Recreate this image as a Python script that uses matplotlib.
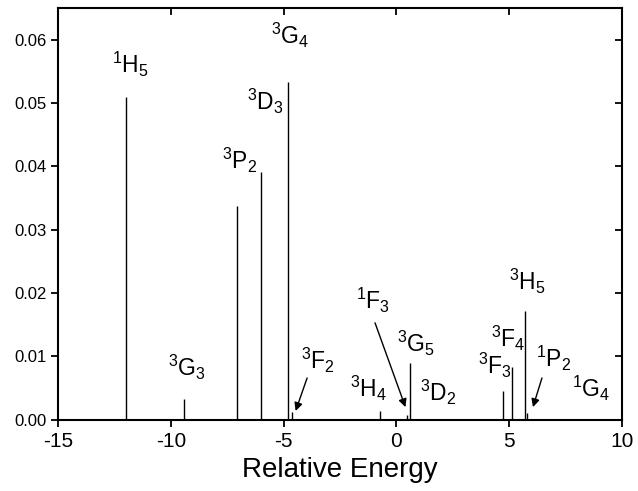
"""Stick spectrum of the multiplet levels vs relative energy"""

import matplotlib
matplotlib.use('Agg')
import matplotlib.pyplot as plt

plt.rcParams['font.family'] = ['Liberation Sans', 'DejaVu Sans']
plt.rcParams['mathtext.default'] = 'regular'
plt.rcParams['axes.unicode_minus'] = False

# level energies and intensities
energies = [-12.0, -9.43, -7.05, -6.0, -4.80, -4.63, -0.74, 0.48, 0.59,
            4.71, 5.11, 5.69, 5.80, 8.55]
intensities = [0.0510, 0.0033, 0.0337, 0.0391, 0.0533, 0.0012, 0.0014,
               0.0007, 0.0089, 0.0045, 0.0084, 0.0172, 0.0011, 0.0002]

# term labels and where they sit (data coords)
labels = [r'$^{1}H_{5}$', r'$^{3}G_{3}$', r'$^{3}P_{2}$', r'$^{3}D_{3}$',
          r'$^{3}G_{4}$', r'$^{3}F_{2}$', r'$^{3}H_{4}$', r'$^{1}F_{3}$',
          r'$^{3}G_{5}$', r'$^{3}D_{2}$', r'$^{3}F_{3}$', r'$^{3}F_{4}$',
          r'$^{3}H_{5}$', r'$^{1}P_{2}$', r'$^{1}G_{4}$']
label_x = [-11.8, -9.3, -6.95, -5.8, -4.7, -3.5, -1.25, -1.05, 0.85,
           1.85, 4.35, 4.95, 5.8, 6.95, 8.65]
label_y = [0.0560, 0.0083, 0.0410, 0.0503, 0.0607, 0.0093, 0.0050, 0.0188,
           0.0120, 0.0043, 0.0085, 0.0128, 0.0218, 0.0097, 0.0050]

# arrows pointing at the weak lines: (start, end)
arrows = [((-3.96, 0.0066), (-4.47, 0.0014)),
          ((-0.95, 0.0153), (0.40, 0.0020)),
          ((6.45, 0.0066), (6.05, 0.0020))]


def plot_spectrum():
    fig = plt.figure(figsize=(6.38, 4.91), dpi=100)
    ax = fig.add_axes([0.091, 0.145, 0.884, 0.839])

    ax.vlines(energies, 0, intensities, colors='black', linewidth=1.0)
    ax.axhline(0, color='black', linewidth=1.0)

    for lab, lx, ly in zip(labels, label_x, label_y):
        ax.text(lx, ly, lab, fontsize=16.5, ha='center', va='center')

    for start, end in arrows:
        ax.annotate('', xy=end, xytext=start,
                    arrowprops=dict(arrowstyle='-|>', color='black',
                                    lw=1.0, mutation_scale=12,
                                    shrinkA=0, shrinkB=0))

    ax.set_xlim(-15, 10)
    ax.set_ylim(0, 0.065)
    ax.set_xticks([-15, -10, -5, 0, 5, 10])
    ax.set_yticks([0.0, 0.01, 0.02, 0.03, 0.04, 0.05, 0.06])
    ax.set_yticklabels(['%.2f' % v for v in ax.get_yticks()])
    ax.tick_params(axis='x', labelsize=15, direction='out', length=5,
                   width=1.3, pad=4)
    ax.tick_params(axis='y', labelsize=12, direction='out', length=5,
                   width=1.3, pad=3.5)
    ax.tick_params(top=True, right=True, labeltop=False, labelright=False)
    # top/right mirror ticks point inward
    for t in ax.xaxis.get_major_ticks():
        t.tick2line.set_marker(3)
    for t in ax.yaxis.get_major_ticks():
        t.tick2line.set_marker(0)
    for sp in ax.spines.values():
        sp.set_linewidth(1.5)

    ax.set_xlabel('Relative Energy', fontsize=20, labelpad=4)
    fig.savefig('out.png', dpi=100)


if __name__ == "__main__":
    plot_spectrum()
